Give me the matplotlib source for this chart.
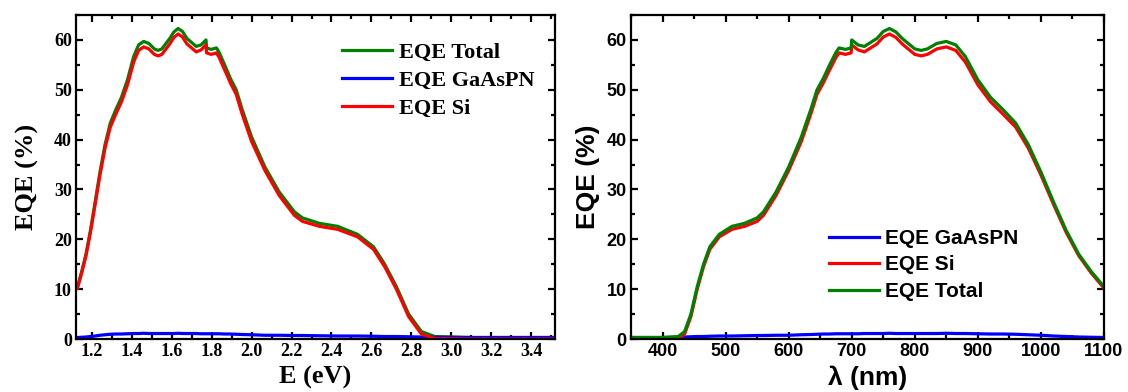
import numpy as np
import matplotlib.pyplot as plt
from matplotlib.ticker import MultipleLocator

# wavelength grid (nm) and EQE readings (%)
wl = [350, 400, 425, 435, 445, 455, 465, 475, 490, 510, 530, 550, 560, 580,
      600, 620, 635, 645, 655, 665, 675, 680, 690, 699, 700, 710, 720, 740,
      750, 760, 770, 780, 800, 810, 820, 835, 850, 865, 880, 900, 920, 940,
      960, 980, 1000, 1020, 1040, 1060, 1080, 1100]
eqe_total = [0.3, 0.3, 0.5, 1.5, 5.0, 10.5, 15.0, 18.5, 21.0, 22.6, 23.2, 24.3,
             25.5, 29.5, 34.5, 40.5, 46.0, 50.0, 52.3, 55.0, 57.5, 58.4, 58.1,
             58.4, 60.0, 59.0, 58.7, 60.3, 61.7, 62.3, 61.6, 60.3, 58.2, 57.9,
             58.2, 59.3, 59.7, 59.0, 56.7, 52.0, 48.5, 46.0, 43.3, 39.0, 33.5,
             27.5, 21.8, 17.0, 13.5, 10.5]
eqe_si = [0.0, 0.0, 0.1, 1.0, 4.5, 10.0, 14.5, 18.0, 20.5, 22.0, 22.6, 23.6,
          24.8, 28.8, 33.8, 39.6, 45.1, 49.1, 51.4, 54.0, 56.5, 57.4, 57.1,
          57.4, 59.0, 58.0, 57.6, 59.2, 60.6, 61.2, 60.5, 59.2, 57.1, 56.8,
          57.1, 58.2, 58.6, 57.9, 55.6, 51.0, 47.6, 45.1, 42.5, 38.3, 32.9,
          27.0, 21.4, 16.7, 13.2, 10.2]
eqe_gaaspn = [0.3, 0.3, 0.35, 0.4, 0.45, 0.5, 0.5, 0.55, 0.6, 0.6, 0.65, 0.7,
              0.7, 0.75, 0.75, 0.85, 0.9, 0.95, 1.0, 1.0, 1.05, 1.05, 1.05,
              1.05, 1.05, 1.05, 1.1, 1.1, 1.1, 1.15, 1.1, 1.1, 1.1, 1.1, 1.1,
              1.1, 1.15, 1.1, 1.1, 1.05, 1.0, 1.0, 0.95, 0.85, 0.75, 0.6, 0.5,
              0.4, 0.35, 0.3]

wl = np.array(wl, dtype=float)
energy = 1240.0 / wl  # photon energy in eV

green = '#008000'
blue = '#0000ff'
red = '#ff0000'
lw = 2.3

fig = plt.figure(figsize=(11.28, 3.92), dpi=100)
ax1 = fig.add_axes([0.0674, 0.1352, 0.4246, 0.8265])
ax2 = fig.add_axes([0.5594, 0.1352, 0.4193, 0.8265])

# left panel: vs energy, serif fonts
serif = 'Liberation Serif'
ax1.plot(energy, eqe_total, color=green, lw=lw, label='EQE Total')
ax1.plot(energy, eqe_gaaspn, color=blue, lw=lw, label='EQE GaAsPN')
ax1.plot(energy, eqe_si, color=red, lw=lw, label='EQE Si')
ax1.set_xlim(1.12, 3.52)
ax1.set_ylim(0, 65)
ax1.xaxis.set_major_locator(MultipleLocator(0.2))
ax1.xaxis.set_minor_locator(MultipleLocator(0.1))
ax1.yaxis.set_major_locator(MultipleLocator(10))
ax1.yaxis.set_minor_locator(MultipleLocator(5))
ax1.set_xlabel('E (eV)', fontfamily=serif, fontweight='bold', fontsize=19, labelpad=4)
ax1.set_ylabel('EQE (%)', fontfamily=serif, fontweight='bold', fontsize=19, labelpad=11)
for lab in ax1.get_xticklabels() + ax1.get_yticklabels():
    lab.set_fontfamily(serif)
    lab.set_fontweight('bold')
    lab.set_fontsize(13)
ax1.legend(loc='upper left', bbox_to_anchor=(0.555, 0.915), frameon=False,
           prop={'family': serif, 'weight': 'bold', 'size': 16},
           handlelength=2.25, labelspacing=0.33, handletextpad=0.3,
           borderaxespad=0, borderpad=0)

# right panel: vs wavelength, sans fonts
sans = 'Liberation Sans'
ax2.plot(wl, eqe_gaaspn, color=blue, lw=lw, label='EQE GaAsPN')
ax2.plot(wl, eqe_si, color=red, lw=lw, label='EQE Si')
ax2.plot(wl, eqe_total, color=green, lw=lw, label='EQE Total')
ax2.set_xlim(350, 1100)
ax2.set_ylim(0, 65)
ax2.xaxis.set_major_locator(MultipleLocator(100))
ax2.xaxis.set_minor_locator(MultipleLocator(50))
ax2.yaxis.set_major_locator(MultipleLocator(10))
ax2.yaxis.set_minor_locator(MultipleLocator(5))
ax2.set_xlabel('λ (nm)', fontfamily=sans, fontweight='bold', fontsize=19, labelpad=4)
ax2.set_ylabel('EQE (%)', fontfamily=sans, fontweight='bold', fontsize=19, labelpad=5)
for lab in ax2.get_xticklabels() + ax2.get_yticklabels():
    lab.set_fontfamily(sans)
    lab.set_fontweight('bold')
    lab.set_fontsize(13)
ax2.legend(loc='upper left', bbox_to_anchor=(0.418, 0.34), frameon=False,
           prop={'family': sans, 'weight': 'bold', 'size': 15},
           handlelength=2.4, labelspacing=0.36, handletextpad=0.3,
           borderaxespad=0, borderpad=0)

for ax in (ax1, ax2):
    for sp in ax.spines.values():
        sp.set_linewidth(1.6)
    ax.tick_params(which='both', direction='in', top=True, right=True, width=1.6)
    ax.tick_params(which='major', length=5, pad=3)
    ax.tick_params(which='minor', length=3)

fig.savefig('out.png', dpi=100)
